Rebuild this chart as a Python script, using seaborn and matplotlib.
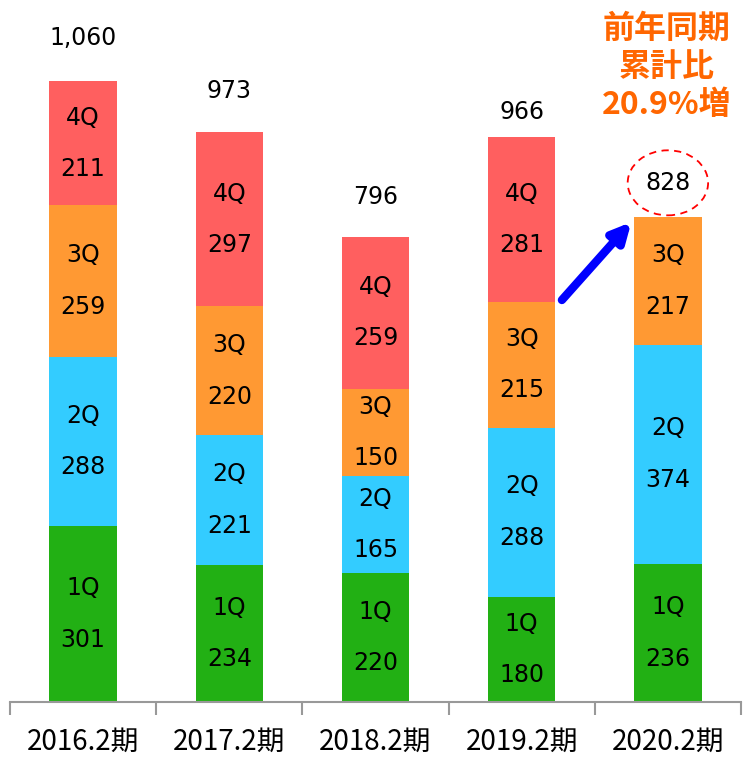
import numpy as np
import pandas as pd
import matplotlib
matplotlib.use('Agg')
import matplotlib.pyplot as plt
import seaborn as sns
from matplotlib.patches import Ellipse

periods = ['2016.2期', '2017.2期', '2018.2期', '2019.2期', '2020.2期']
q1 = [301, 234, 220, 180, 236]
q2 = [288, 221, 165, 288, 374]
q3 = [259, 220, 150, 215, 217]
q4 = [211, 297, 259, 281, np.nan]
totals = ['1,060', '973', '796', '966', '828']
total_label_y = [1133, 1043, 862, 1007, 886]

quarters = ['1Q', '2Q', '3Q', '4Q']
colors = ['#22B014', '#33CCFF', '#FF9933', '#FF5F5F']

sns.set_style('white')
plt.rcParams['font.family'] = ['Noto Sans CJK JP', 'DejaVu Sans']
plt.rcParams['text.color'] = 'black'
plt.rcParams['xtick.color'] = 'black'

df = pd.DataFrame({'period': periods, '1Q': q1, '2Q': q2, '3Q': q3, '4Q': q4})
cum = df[quarters].cumsum(axis=1)

fig = plt.figure(figsize=(7.44, 7.57), dpi=100)
ax = fig.add_axes([10 / 744, 55 / 757, 731 / 744, 702 / 757])

# draw stacks from top down so lower segments cover upper cumulative bars
for i in range(3, -1, -1):
    d = pd.DataFrame({'period': periods, 'val': cum[quarters[i]]})
    d = d.dropna()
    sns.barplot(data=d, x='period', y='val', order=periods, color=colors[i],
                saturation=1, width=0.46, errorbar=None, linewidth=0, ax=ax)

# segment labels
for j in range(len(periods)):
    base = 0
    for i, q in enumerate(quarters):
        v = df[q][j]
        if np.isnan(v):
            continue
        mid = base + v / 2
        ax.annotate(q, (j, mid), xytext=(0, 18.5), textcoords='offset points',
                    ha='center', va='center', fontsize=17, family='DejaVu Sans')
        ax.annotate(f'{int(v)}', (j, mid), xytext=(0, -18.5), textcoords='offset points',
                    ha='center', va='center', fontsize=17, family='DejaVu Sans')
        base += v

# totals
for j, t in enumerate(totals):
    ax.text(j, total_label_y[j], t, ha='center', va='center', fontsize=17,
            family='DejaVu Sans')

# dashed ellipse around latest total
ax.add_patch(Ellipse((4, total_label_y[4]), 0.55, 111, fill=False,
                     edgecolor='red', linestyle=(0, (4, 3)), linewidth=1.3,
                     clip_on=False))

# blue arrow
ax.annotate('', xy=(3.75, 819), xytext=(3.275, 686),
            arrowprops=dict(arrowstyle='-|>,head_width=0.55,head_length=1.1',
                            color='#0000FF', lw=6, shrinkA=0, shrinkB=0))

# headline
ax.text(3.99, 1084, '前年同期\n累計比\n20.9%増', ha='center', va='center',
        fontsize=23, fontweight='bold', color='#FF6600', linespacing=1.25)

ax.set_xlim(-0.5, 4.5)
ax.set_ylim(0, 1198)
ax.set_xlabel('')
ax.set_ylabel('')
ax.set_yticks([])
for s in ['top', 'right', 'left']:
    ax.spines[s].set_visible(False)
ax.spines['bottom'].set_color('#999999')
ax.spines['bottom'].set_linewidth(1.5)
ax.set_xticks(range(len(periods)))
ax.set_xticklabels(periods, fontsize=20)
ax.set_xticks(np.arange(-0.5, 5, 1), minor=True)
ax.tick_params(axis='x', which='major', length=0, pad=18)
ax.tick_params(axis='x', which='minor', length=9, width=1.5, color='#999999',
               bottom=True)

fig.savefig('out.png', dpi=100)
